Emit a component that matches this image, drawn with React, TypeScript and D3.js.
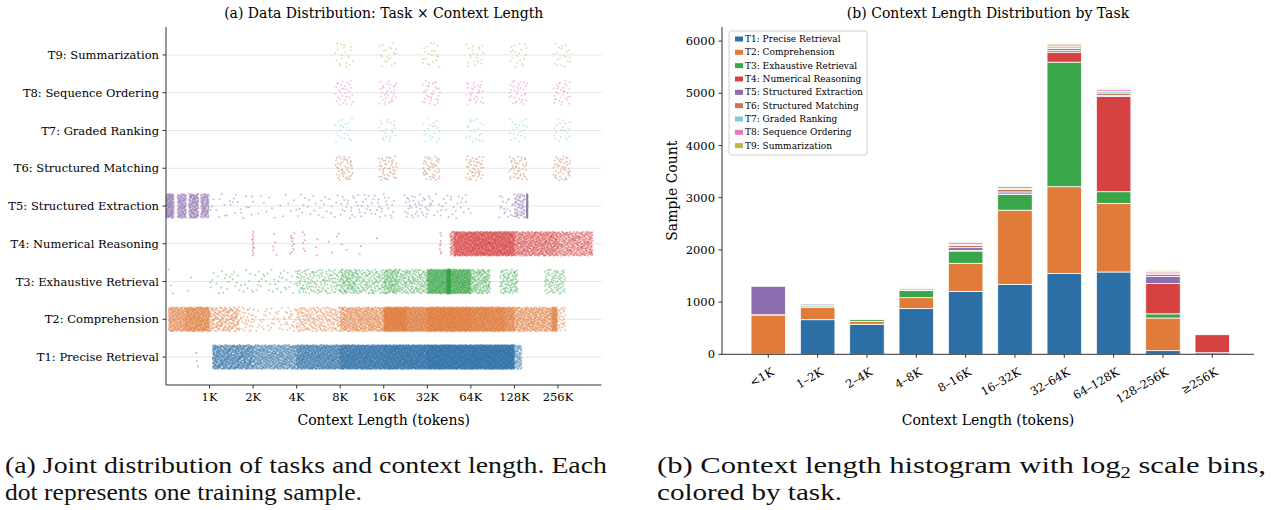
import React, { useEffect, useRef } from "react";
import * as d3 from "d3";

const W = 1273;
const H = 510;
const FONT = "DejaVu Serif";

const taskNames = [
  "T1: Precise Retrieval",
  "T2: Comprehension",
  "T3: Exhaustive Retrieval",
  "T4: Numerical Reasoning",
  "T5: Structured Extraction",
  "T6: Structured Matching",
  "T7: Graded Ranking",
  "T8: Sequence Ordering",
  "T9: Summarization",
];
const taskColors = [
  "#2c6fa7", "#e07b39", "#3aa64a", "#d64242", "#8c6db0",
  "#c27a55", "#7ccbd6", "#e47ec3", "#c2b54a",
];

// left panel: context length ticks (in K tokens)
const lengthTicks = [1, 2, 4, 8, 16, 32, 64, 128, 256];
const lengthTickLabels = ["1K", "2K", "4K", "8K", "16K", "32K", "64K", "128K", "256K"];

// samples per context-length span: [fromK, toK, samples]
const spreadT1 = [[0.8, 0.84, 3], [1.05, 2, 663], [2, 4, 575], [4, 8, 875], [8, 16, 1205],
  [16, 32, 1340], [32, 64, 1550], [64, 128, 1577], [128, 144, 70]];
const spreadT2 = [[0.52, 0.68, 250], [0.68, 1, 500], [1, 1.6, 200], [1.6, 2, 32], [2, 3.3, 35],
  [3.3, 4, 23], [4, 8, 210], [8, 16, 538], [16, 23, 800], [23, 32, 520], [32, 64, 1500],
  [64, 110, 1000], [110, 128, 214], [128, 232, 480], [232, 253, 145], [253, 288, 30]];
const spreadT3 = [[0.52, 0.6, 3], [0.7, 0.76, 2], [1, 2, 30], [2, 4, 35], [4, 8, 135],
  [8, 10.6, 120], [10.6, 16, 115], [16, 20, 130], [20, 32, 170], [32, 44, 450],
  [44, 46, 350], [46, 64, 480], [64, 87, 150], [102, 128, 74], [128, 135, 20], [207, 287, 80]];
const spreadT4 = [[1.98, 2.02, 12], [2.73, 2.91, 5], [3.6, 3.86, 10], [4.4, 4.6, 6], [5.4, 5.6, 3],
  [6.6, 9, 6], [10.8, 11.2, 2], [14.3, 14.7, 1], [39, 40, 8], [46, 49, 40], [49, 64, 380],
  [64, 128, 1050], [128, 256, 580], [256, 445, 345]];
const spreadT5 = [[0.5, 0.567, 150], [0.6, 0.69, 130], [0.72, 0.84, 150], [0.87, 0.99, 115],
  [1, 2, 25], [2, 4, 15], [4, 8, 25], [8, 19, 55], [22, 34, 40], [34, 64, 30], [100, 128, 20],
  [128, 152, 65], [156, 158, 70]];
const spreadT6 = [[7.4, 9.8, 45], [14.8, 19.6, 45], [29.7, 39.2, 45], [59.3, 78.3, 45], [118, 157, 45], [237, 313, 45]];
const spreadT7 = [[7.4, 9.8, 20], [14.8, 19.6, 20], [29.7, 39.2, 20], [59.3, 78.3, 20], [118, 157, 20], [237, 313, 20]];
const spreadT8 = [[7.4, 9.8, 32], [14.8, 19.6, 32], [29.7, 39.2, 32], [59.3, 78.3, 32], [118, 157, 32], [237, 313, 32]];
const spreadT9 = [[7.4, 9.8, 20], [14.8, 19.6, 20], [29.7, 39.2, 20], [59.3, 78.3, 20], [118, 157, 20], [237, 313, 20]];
const spreads = [spreadT1, spreadT2, spreadT3, spreadT4, spreadT5, spreadT6, spreadT7, spreadT8, spreadT9];

// right panel: histogram counts per log2 bin
const binLabels = ["<1K", "1–2K", "2–4K", "4–8K", "8–16K", "16–32K", "32–64K", "64–128K", "128–256K", "≥256K"];
const histT1 = [3, 663, 575, 875, 1205, 1340, 1550, 1577, 70, 0];
const histT2 = [750, 232, 58, 210, 538, 1420, 1660, 1314, 625, 30];
const histT3 = [5, 30, 35, 135, 235, 300, 2387, 224, 80, 0];
const histT4 = [0, 10, 12, 15, 10, 10, 190, 1823, 580, 345];
const histT5 = [545, 25, 15, 25, 55, 40, 30, 20, 135, 0];
const histT6 = [0, 0, 0, 10, 40, 45, 45, 45, 45, 0];
const histT7 = [0, 0, 0, 5, 25, 25, 30, 30, 25, 0];
const histT8 = [0, 0, 0, 8, 35, 35, 35, 35, 30, 0];
const histT9 = [0, 0, 0, 5, 20, 15, 25, 20, 20, 0];
const hists = [histT1, histT2, histT3, histT4, histT5, histT6, histT7, histT8, histT9];
const countTicks = [0, 1000, 2000, 3000, 4000, 5000, 6000];

// low-discrepancy sequence, used for the jitter of the strip plot
function halton(i: number, b: number) {
  let f = 1, r = 0;
  while (i > 0) {
    f /= b;
    r += f * (i % b);
    i = Math.floor(i / b);
  }
  return r;
}

function drawScatter(el: SVGGElement) {
  const g = d3.select(el);
  g.selectAll("*").remove();
  const x = d3.scaleLog().base(2).domain([0.5, 512]).range([166, 601.5]);
  const y = d3.scaleLinear().domain([-0.74, 8.74]).range([385, 27]);
  const jitter = 0.32;

  g.append("g").selectAll("line").data(taskNames).join("line")
    .attr("x1", x.range()[0]).attr("x2", x.range()[1])
    .attr("y1", (d, i) => y(i)).attr("y2", (d, i) => y(i))
    .attr("stroke", "#e6e6e6").attr("stroke-width", 1);

  let k = 1;
  spreads.forEach((segs, t) => {
    const pts: [number, number][] = [];
    segs.forEach(([lo, hi, n]) => {
      const a = Math.log2(lo), b = Math.log2(hi);
      for (let j = 0; j < n; j++, k++) {
        pts.push([a + (b - a) * halton(k, 2), t + (halton(k, 3) - 0.5) * 2 * jitter]);
      }
    });
    g.append("g").selectAll("circle").data(pts).join("circle")
      .attr("cx", d => x(Math.pow(2, d[0])))
      .attr("cy", d => y(d[1]))
      .attr("r", 1.0)
      .attr("fill", taskColors[t])
      .attr("fill-opacity", 0.45);
  });

  // spines
  g.append("line").attr("x1", 166).attr("x2", 166).attr("y1", y.range()[1]).attr("y2", y.range()[0])
    .attr("stroke", "#333").attr("stroke-width", 1);
  g.append("line").attr("x1", 166).attr("x2", x.range()[1]).attr("y1", 385).attr("y2", 385)
    .attr("stroke", "#333").attr("stroke-width", 1);

  // y ticks
  const yt = g.append("g").selectAll("g").data(taskNames).join("g")
    .attr("transform", (d, i) => `translate(166,${y(i)})`);
  yt.append("line").attr("x1", -3.5).attr("x2", 0).attr("stroke", "#333");
  yt.append("text").attr("x", -7).attr("dy", "0.35em").attr("text-anchor", "end")
    .style("font-size", "11.5px").text(d => d);

  // x ticks
  const xt = g.append("g").selectAll("g").data(lengthTicks).join("g")
    .attr("transform", d => `translate(${x(d)},385)`);
  xt.append("line").attr("y1", 0).attr("y2", 3.5).attr("stroke", "#333");
  xt.append("text").attr("y", 7).attr("dy", "0.76em").attr("text-anchor", "middle")
    .style("font-size", "11.5px").text((d, i) => lengthTickLabels[i]);

  g.append("text").attr("x", (166 + 601.5) / 2).attr("y", 425).attr("text-anchor", "middle")
    .style("font-size", "14px").text("Context Length (tokens)");
  g.append("text").attr("x", (166 + 601.5) / 2).attr("y", 18).attr("text-anchor", "middle")
    .style("font-size", "14px").text("(a) Data Distribution: Task × Context Length");
}

function drawBars(el: SVGGElement) {
  const g = d3.select(el);
  g.selectAll("*").remove();
  const x = d3.scalePoint().domain(binLabels).range([768.3, 1212.3]);
  const y = d3.scaleLinear().domain([0, 6270]).range([354.3, 27]);
  const bw = x.step() * 0.7;
  const keys = taskNames.map((d, i) => "t" + i);

  const rows = binLabels.map((b, i) => {
    const row: any = { bin: b };
    hists.forEach((h, t) => { row["t" + t] = h[i]; });
    return row;
  });
  const series = d3.stack().keys(keys)(rows);

  series.forEach((s, t) => {
    g.append("g").selectAll("rect").data(s.filter(d => d[1] - d[0] > 0)).join("rect")
      .attr("x", d => x(d.data.bin)! - bw / 2)
      .attr("width", bw)
      .attr("y", d => y(d[1]))
      .attr("height", d => y(d[0]) - y(d[1]))
      .attr("fill", taskColors[t])
      .attr("stroke", "#fff")
      .attr("stroke-width", 0.8);
  });

  // spines
  g.append("line").attr("x1", 722).attr("x2", 722).attr("y1", 27).attr("y2", 354.3)
    .attr("stroke", "#333");
  g.append("line").attr("x1", 722).attr("x2", 1254).attr("y1", 354.3).attr("y2", 354.3)
    .attr("stroke", "#333");

  const yt = g.append("g").selectAll("g").data(countTicks).join("g")
    .attr("transform", d => `translate(722,${y(d)})`);
  yt.append("line").attr("x1", -3.5).attr("x2", 0).attr("stroke", "#333");
  yt.append("text").attr("x", -7).attr("dy", "0.35em").attr("text-anchor", "end")
    .style("font-size", "11.5px").text(d => String(d));

  const xt = g.append("g").selectAll("g").data(binLabels).join("g")
    .attr("transform", d => `translate(${x(d)},354.3)`);
  xt.append("line").attr("y1", 0).attr("y2", 3.5).attr("stroke", "#333");
  xt.append("text").attr("transform", "translate(2,12) rotate(-30)")
    .attr("dy", "0.8em").attr("text-anchor", "end")
    .style("font-size", "11.5px").text(d => d);

  g.append("text").attr("x", (722 + 1254) / 2).attr("y", 425).attr("text-anchor", "middle")
    .style("font-size", "14px").text("Context Length (tokens)");
  g.append("text").attr("transform", `translate(677,${(27 + 354.3) / 2}) rotate(-90)`)
    .attr("text-anchor", "middle").style("font-size", "14px").text("Sample Count");
  g.append("text").attr("x", (722 + 1254) / 2).attr("y", 18).attr("text-anchor", "middle")
    .style("font-size", "14px").text("(b) Context Length Distribution by Task");

  // legend
  const lg = g.append("g").attr("transform", "translate(729,31)");
  lg.append("rect").attr("width", 138).attr("height", 124).attr("rx", 2)
    .attr("fill", "#fff").attr("fill-opacity", 0.85).attr("stroke", "#d0d0d0");
  const items = lg.selectAll("g.item").data(taskNames).join("g")
    .attr("transform", (d, i) => `translate(0,${8 + i * 13.33})`);
  items.append("rect").attr("x", 6).attr("y", -2.5).attr("width", 8).attr("height", 5)
    .attr("fill", (d, i) => taskColors[i]);
  items.append("text").attr("x", 16).attr("dy", "0.35em")
    .style("font-size", "9px").text(d => d);
}

export default function App() {
  const leftRef = useRef<SVGGElement>(null);
  const rightRef = useRef<SVGGElement>(null);

  useEffect(() => {
    if (leftRef.current) drawScatter(leftRef.current);
    if (rightRef.current) drawBars(rightRef.current);
  }, []);

  const capFont = "'Liberation Serif', 'Times New Roman', serif";
  return (
    <svg width={W} height={H} style={{ position: "absolute", left: 0, top: 0, background: "#fff" }}
      fontFamily={FONT} fill="#000">
      <g ref={leftRef} />
      <g ref={rightRef} />
      <g fontFamily={capFont} fontSize={24} fill="#111">
        <text x={5} y={473} textLength={602} lengthAdjust="spacingAndGlyphs">
          (a) Joint distribution of tasks and context length. Each
        </text>
        <text x={5} y={500} textLength={357} lengthAdjust="spacingAndGlyphs">
          dot represents one training sample.
        </text>
        <text x={657} y={473} textLength={609} lengthAdjust="spacingAndGlyphs">
          (b) Context length histogram with log<tspan fontSize={16} dy={5}>2</tspan>
          <tspan dy={-5}> scale bins,</tspan>
        </text>
        <text x={657} y={500} textLength={185} lengthAdjust="spacingAndGlyphs">
          colored by task.
        </text>
      </g>
    </svg>
  );
}
